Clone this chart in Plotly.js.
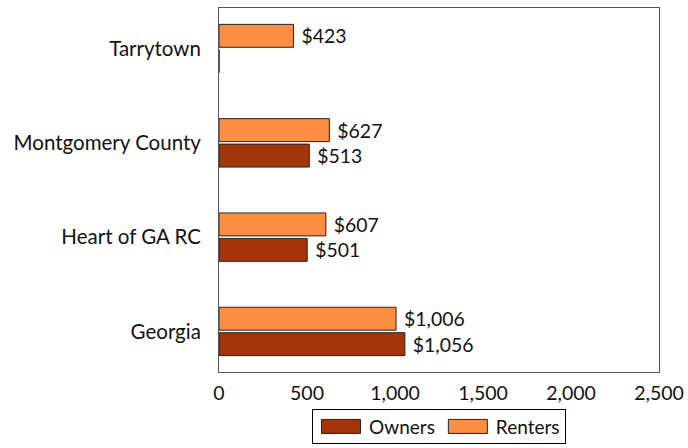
<!DOCTYPE html>
<html>
<head>
<meta charset="utf-8">
<script src="https://cdn.plot.ly/plotly-3.0.1.min.js"></script>
<style>html,body{margin:0;padding:0;background:#fff;}#chart{width:688px;height:448px;}</style>
</head>
<body>
<div id="chart"></div>
<script>
const categories = ["Georgia", "Heart of GA RC", "Montgomery County", "Tarrytown"];
const owners = [1056, 501, 513, 0];
const renters = [1006, 607, 627, 423];
const ownersLabels = ["$1,056", "$501", "$513", ""];
const rentersLabels = ["$1,006", "$607", "$627", "$423"];
const xTicks = [0, 500, 1000, 1500, 2000, 2500];
const xTickText = ["0", "500", "1,000", "1,500", "2,000", "2,500"];

const fam = "Lato, 'DejaVu Sans', sans-serif";
const numFont = {family: fam, size: 19.5, color: "#111"};
const catFont = {family: fam, size: 20.5, color: "#111"};
const legFont = {family: fam, size: 19, color: "#111"};

const pad = s => (s ? "\u00a0" + s : s);

const data = [
  {type: "bar", orientation: "h", name: "Owners", y: categories, x: owners,
   text: ownersLabels.map(pad), textposition: "outside", cliponaxis: false,
   textfont: numFont,
   marker: {color: "#A33508", line: {color: "#222", width: 1}}},
  {type: "bar", orientation: "h", name: "Renters", y: categories, x: renters,
   text: rentersLabels.map(pad), textposition: "outside", cliponaxis: false,
   textfont: numFont,
   marker: {color: "#FF8E42", line: {color: "#222", width: 1}}}
];

const layout = {
  width: 688, height: 448,
  margin: {l: 219, r: 29, t: 8, b: 76, autoexpand: false},
  paper_bgcolor: "#fff", plot_bgcolor: "#fff",
  font: numFont,
  barmode: "group", bargap: 0.46, bargroupgap: 0.1,
  showlegend: true,
  legend: {orientation: "h", x: 0.5, xanchor: "center", y: -0.095, yanchor: "top",
           bordercolor: "#000", borderwidth: 1, font: legFont, traceorder: "normal",
           itemwidth: 46, tracegroupgap: 0},
  xaxis: {range: [0, 2500], tickvals: xTicks, ticktext: xTickText,
          showgrid: false, zeroline: false, showline: true, mirror: true,
          linecolor: "#555", linewidth: 1, ticks: "", ticklabelstandoff: 4,
          tickfont: numFont, fixedrange: true},
  yaxis: {range: [-0.43, 3.43], showgrid: false, zeroline: false, showline: true,
          mirror: true, linecolor: "#555", linewidth: 1, ticks: "",
          ticklabelstandoff: 13, tickfont: catFont, fixedrange: true}
};

Plotly.newPlot("chart", data, layout, {displayModeBar: false, staticPlot: true}).then(gd => {
  gd.querySelectorAll(".legend .traces .legendpoints path").forEach(p => {
    p.setAttribute("d", "M-19.5,-7h39v14h-39z");
  });
  const bg = gd.querySelector(".legend .bg");
  if (bg) {
    const h = parseFloat(bg.getAttribute("height"));
    if (h > 34) {
      const shift = (h - 34) / 2;
      bg.setAttribute("height", 34);
      bg.setAttribute("y", parseFloat(bg.getAttribute("y") || 0) + shift);
    }
  }
});
</script>
</body>
</html>
